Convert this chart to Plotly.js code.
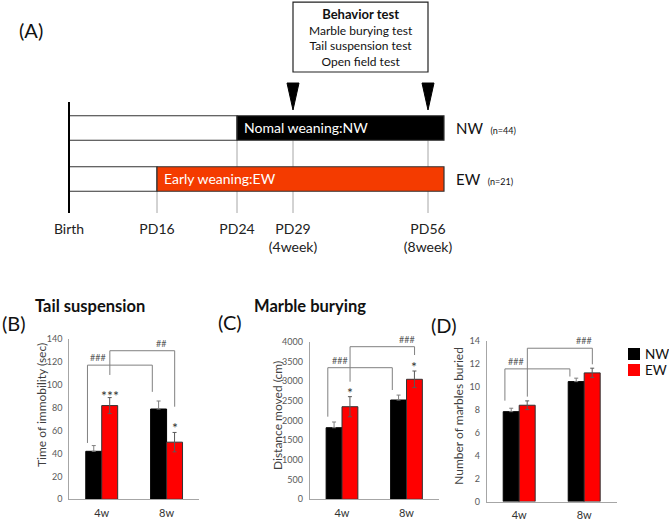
<!DOCTYPE html>
<html>
<head>
<meta charset="utf-8">
<script src="https://cdn.plot.ly/plotly-3.0.1.min.js"></script>
<style>html,body{margin:0;padding:0;background:#fff;}#chart{width:669px;height:521px;}</style>
</head>
<body>
<div id="chart"></div>
<script>
// ---------- DATA ----------
const categories = ['4w', '8w'];
const seriesNames = ['NW', 'EW'];
const seriesColors = ['#000000', '#ff0000'];

// (B) Tail suspension: time of immobility (sec)
const tailNW = [42, 79];
const tailNWErr = [5, 7];
const tailEW = [82, 50];
const tailEWErr = [7, 8.5];

// (C) Distance moved (cm)
const distNW = [1817, 2520];
const distNWErr = [145, 125];
const distEW = [2350, 3046];
const distEWErr = [255, 210];

// (D) Number of marbles buried
const marbNW = [7.84, 10.46];
const marbNWErr = [0.3, 0.3];
const marbEW = [8.4, 11.22];
const marbEWErr = [0.38, 0.41];

// significance brackets: from / to = [category index, series]
const tailBrackets = [
  {from: [0, 'NW'], to: [1, 'NW'], top: 117.4, bottoms: [49.3, 94], label: '###', labelX: -0.05},
  {from: [0, 'EW'], to: [1, 'EW'], top: 130, bottoms: [108.8, 81], label: '##', labelX: 0.91}
];
const distBrackets = [
  {from: [0, 'NW'], to: [1, 'NW'], top: 3340, bottoms: [2097, 2774], label: '###', labelX: -0.03},
  {from: [0, 'EW'], to: [1, 'EW'], top: 3873, bottoms: [2985, 3662], label: '###', labelX: 1.0}
];
const marbBrackets = [
  {from: [0, 'NW'], to: [1, 'NW'], top: 11.57, bottoms: [8.8, 10.9], label: '###', labelX: -0.05},
  {from: [0, 'EW'], to: [1, 'EW'], top: 13.37, bottoms: [9.15, 11.97], label: '###', labelX: 1.0}
];
const tailStars = [{cat: 0, series: 'EW', y: 94, text: '***'}, {cat: 1, series: 'EW', y: 66.5, text: '*'}];
const distStars = [{cat: 0, series: 'EW', y: 2800, text: '*'}, {cat: 1, series: 'EW', y: 3464, text: '*'}];
const marbStars = [];

// (A) timeline (schematic, not to scale)
const timelineLabels = ['Birth', 'PD16', 'PD24', 'PD29<br>(4week)', 'PD56<br>(8week)'];
const timelinePos = [0, 88, 168, 224, 359];
const timelineEnd = 375;
const groups = ['NW', 'EW'];
const groupNames = ['Nomal weaning:NW', 'Early weaning:EW'];
const groupN = [44, 21];
const groupColors = ['#000000', '#f43b00'];
const weanIdx = [2, 1];      // PD24 for NW, PD16 for EW
const testIdx = [3, 4];      // behaviour tests at PD29 and PD56
const testNames = ['Marble burying test', 'Tail suspension test', 'Open field test'];

// ---------- HELPERS ----------
const W = 669, H = 521;
const px = x => x / W;
const py = y => 1 - y / H;
const FONT = 'Lato, "Open Sans", sans-serif';
const seriesOffset = {NW: -0.22, EW: 0.125};
const barCenter = {NW: -0.123, EW: 0.123};

const traces = [];
const annotations = [];
const shapes = [];

const panels = [
  {xa: 'x', ya: 'y', nw: tailNW, nwe: tailNWErr, ew: tailEW, ewe: tailEWErr, brackets: tailBrackets, stars: tailStars},
  {xa: 'x2', ya: 'y2', nw: distNW, nwe: distNWErr, ew: distEW, ewe: distEWErr, brackets: distBrackets, stars: distStars},
  {xa: 'x3', ya: 'y3', nw: marbNW, nwe: marbNWErr, ew: marbEW, ewe: marbEWErr, brackets: marbBrackets, stars: marbStars}
];
const catX = categories.map((_, i) => i);

panels.forEach(p => {
  traces.push({
    type: 'bar', x: catX, y: p.nw, name: seriesNames[0], xaxis: p.xa, yaxis: p.ya,
    marker: {color: seriesColors[0], line: {color: '#000', width: 1}},
    error_y: {type: 'data', symmetric: false, array: p.nwe, arrayminus: p.nwe.map(() => 0),
              color: '#7f7f7f', thickness: 1, width: 2},
    showlegend: false, hoverinfo: 'skip'
  });
  traces.push({
    type: 'bar', x: catX, y: p.ew, name: seriesNames[1], xaxis: p.xa, yaxis: p.ya,
    marker: {color: seriesColors[1], line: {color: '#333', width: 1}},
    error_y: {type: 'data', array: p.ewe, color: '#595959', thickness: 1, width: 2},
    showlegend: false, hoverinfo: 'skip'
  });
  p.brackets.forEach(b => {
    const x0 = b.from[0] + seriesOffset[b.from[1]];
    const x1 = b.to[0] + seriesOffset[b.to[1]];
    traces.push({
      type: 'scatter', mode: 'lines', xaxis: p.xa, yaxis: p.ya,
      x: [x0, x0, x1, x1], y: [b.bottoms[0], b.top, b.top, b.bottoms[1]],
      line: {color: '#808080', width: 1}, showlegend: false, hoverinfo: 'skip', cliponaxis: false
    });
    annotations.push({
      xref: p.xa, yref: p.ya, x: b.labelX, y: b.top, text: b.label, showarrow: false,
      xanchor: 'center', yanchor: 'bottom', font: {family: FONT, size: 9, color: '#595959'}
    });
  });
  p.stars.forEach(s => {
    annotations.push({
      xref: p.xa, yref: p.ya, x: s.cat + barCenter[s.series], y: s.y, text: s.text, showarrow: false,
      xanchor: 'center', yanchor: 'middle', yshift: -4, font: {family: FONT, size: 14, color: '#333'}
    });
  });
});

// ---------- TIMELINE ----------
const tlY = [], tlBase = [], tlLen = [], tlCol = [];
groups.forEach((g, i) => {
  const w = timelinePos[weanIdx[i]];
  tlY.push(i, i); tlBase.push(0, w); tlLen.push(w, timelineEnd - w); tlCol.push('#ffffff', groupColors[i]);
});
traces.push({
  type: 'bar', orientation: 'h', xaxis: 'x4', yaxis: 'y4', y: tlY, x: tlLen, base: tlBase, width: 0.48,
  marker: {color: tlCol, line: {color: '#333', width: 1.2}}, showlegend: false, hoverinfo: 'skip'
});
const halfBar = 0.24;
const axisBottom = 1.667;
// event guide lines
timelinePos.forEach((x, i) => {
  if (i === 0) {
    shapes.push({type: 'line', xref: 'x4', yref: 'y4', x0: x, x1: x, y0: -0.51, y1: axisBottom,
                 line: {color: '#000', width: 2}, layer: 'above'});
  } else {
    const topY = (i === weanIdx[1]) ? 1 + halfBar : halfBar;
    shapes.push({type: 'line', xref: 'x4', yref: 'y4', x0: x, x1: x, y0: topY, y1: axisBottom,
                 line: {color: '#a6a6a6', width: 1}, layer: 'below'});
  }
});
// test arrows
testIdx.forEach(idx => {
  const x = timelinePos[idx];
  shapes.push({type: 'path', xref: 'x4', yref: 'y4',
    path: `M ${x - 6},-0.882 L ${x + 6},-0.882 L ${x},-0.353 Z`,
    fillcolor: '#000', line: {color: '#000', width: 1}});
});
// behaviour test box
const boxX0 = timelinePos[testIdx[0]], boxX1 = timelinePos[testIdx[1]];
shapes.push({type: 'rect', xref: 'x4', yref: 'y4', x0: boxX0, x1: boxX1, y0: -2.47, y1: -1.098,
             line: {color: '#222', width: 1.2}, fillcolor: 'rgba(0,0,0,0)'});
annotations.push({xref: 'x4', yref: 'y4', x: (boxX0 + boxX1) / 2, y: (-2.47 - 1.098) / 2,
  text: '<span style="font-size:13px"><b>Behavior test</b></span><br>' + testNames.join('<br>'), showarrow: false,
  font: {family: FONT, size: 12, color: '#111'}, align: 'center'});
// bar texts and group labels
groups.forEach((g, i) => {
  annotations.push({xref: 'x4', yref: 'y4', x: timelinePos[weanIdx[i]] + 5, y: i, text: groupNames[i],
    showarrow: false, xanchor: 'left', yanchor: 'middle', font: {family: FONT, size: 14, color: '#fff'}});
  annotations.push({xref: 'paper', yref: 'y4', x: px(454), y: i,
    text: g + '  <span style="font-size:9px">(n=' + groupN[i] + ')</span>',
    showarrow: false, xanchor: 'left', yanchor: 'middle', font: {family: FONT, size: 15, color: '#111'}});
});

// ---------- LABELS ----------
const paperText = (x, y, text, size, extra) => annotations.push(Object.assign({
  xref: 'paper', yref: 'paper', x: px(x), y: py(y), text: text, showarrow: false,
  xanchor: 'center', yanchor: 'middle', font: {family: FONT, size: size, color: '#111'}}, extra || {}));
paperText(31, 30, '(A)', 20);
paperText(13.5, 323, '(B)', 20);
paperText(230, 322, '(C)', 20);
paperText(443.5, 325, '(D)', 20);
paperText(90, 306, '<b>Tail suspension</b>', 16.5);
paperText(309.5, 306, '<b>Marble burying</b>', 16.5);
const yTitle = (x, y, text) => paperText(x, y, text, 12, {textangle: -90, font: {family: FONT, size: 12, color: '#404040'}});
yTitle(41, 405, 'Time of immobility (sec)');
yTitle(277, 416, 'Distance moved (cm)');
yTitle(458.3, 415.5, 'Number of marbles buried');

// legend
seriesNames.forEach((n, i) => {
  const cy = 354 + i * 16;
  shapes.push({type: 'rect', xref: 'paper', yref: 'paper', x0: px(628), x1: px(640), y0: py(cy - 6), y1: py(cy + 6),
               fillcolor: seriesColors[i], line: {width: 0}});
  annotations.push({xref: 'paper', yref: 'paper', x: px(643.5), y: py(cy), text: n, showarrow: false, borderpad: 0,
    xanchor: 'left', yanchor: 'middle', font: {family: FONT, size: 13.5, color: '#111'}});
});

// ---------- AXES ----------
const xBase = {range: [-0.5, 1.5], tickvals: catX, ticktext: categories, showline: true, linecolor: '#a6a6a6',
  linewidth: 1, ticks: '', showgrid: false, zeroline: false, ticklabelstandoff: 3,
  tickfont: {family: FONT, size: 11, color: '#333'}, fixedrange: true};
const yBase = {showline: true, linecolor: '#a6a6a6', linewidth: 1, ticks: '', showgrid: false, zeroline: false,
  ticklabelstandoff: 4, tickfont: {family: FONT, size: 9, color: '#595959'}, fixedrange: true};

const layout = {
  width: W, height: H, margin: {l: 0, r: 0, t: 0, b: 0}, paper_bgcolor: '#fff', plot_bgcolor: 'rgba(0,0,0,0)',
  showlegend: false, barmode: 'group', bargap: 0.508, bargroupgap: 0,
  font: {family: FONT},
  xaxis: Object.assign({}, xBase, {domain: [px(69.3), px(199)], anchor: 'y'}),
  yaxis: Object.assign({}, yBase, {domain: [py(499.3), py(339.3)], range: [0, 140], dtick: 20, anchor: 'x'}),
  xaxis2: Object.assign({}, xBase, {domain: [px(309.75), px(438.75)], anchor: 'y2'}),
  yaxis2: Object.assign({}, yBase, {domain: [py(499.3), py(341.7)], range: [0, 4000], dtick: 500, anchor: 'x2'}),
  xaxis3: Object.assign({}, xBase, {domain: [px(486.7), px(616.7)], anchor: 'y3'}),
  yaxis3: Object.assign({}, yBase, {domain: [py(501.6), py(341)], range: [0, 14], dtick: 2, anchor: 'x3'}),
  xaxis4: {domain: [px(59), px(454)], range: [-10, 385], anchor: 'y4', tickvals: timelinePos, ticktext: timelineLabels,
    ticks: '', showline: false, showgrid: false, zeroline: false, ticklabelstandoff: 6,
    tickfont: {family: FONT, size: 14, color: '#222'}, fixedrange: true},
  yaxis4: {domain: [py(213), 1], range: [axisBottom, -2.51], anchor: 'x4', visible: false, fixedrange: true},
  shapes: shapes, annotations: annotations
};

Plotly.newPlot('chart', traces, layout, {displayModeBar: false, staticPlot: true});
</script>
</body>
</html>
